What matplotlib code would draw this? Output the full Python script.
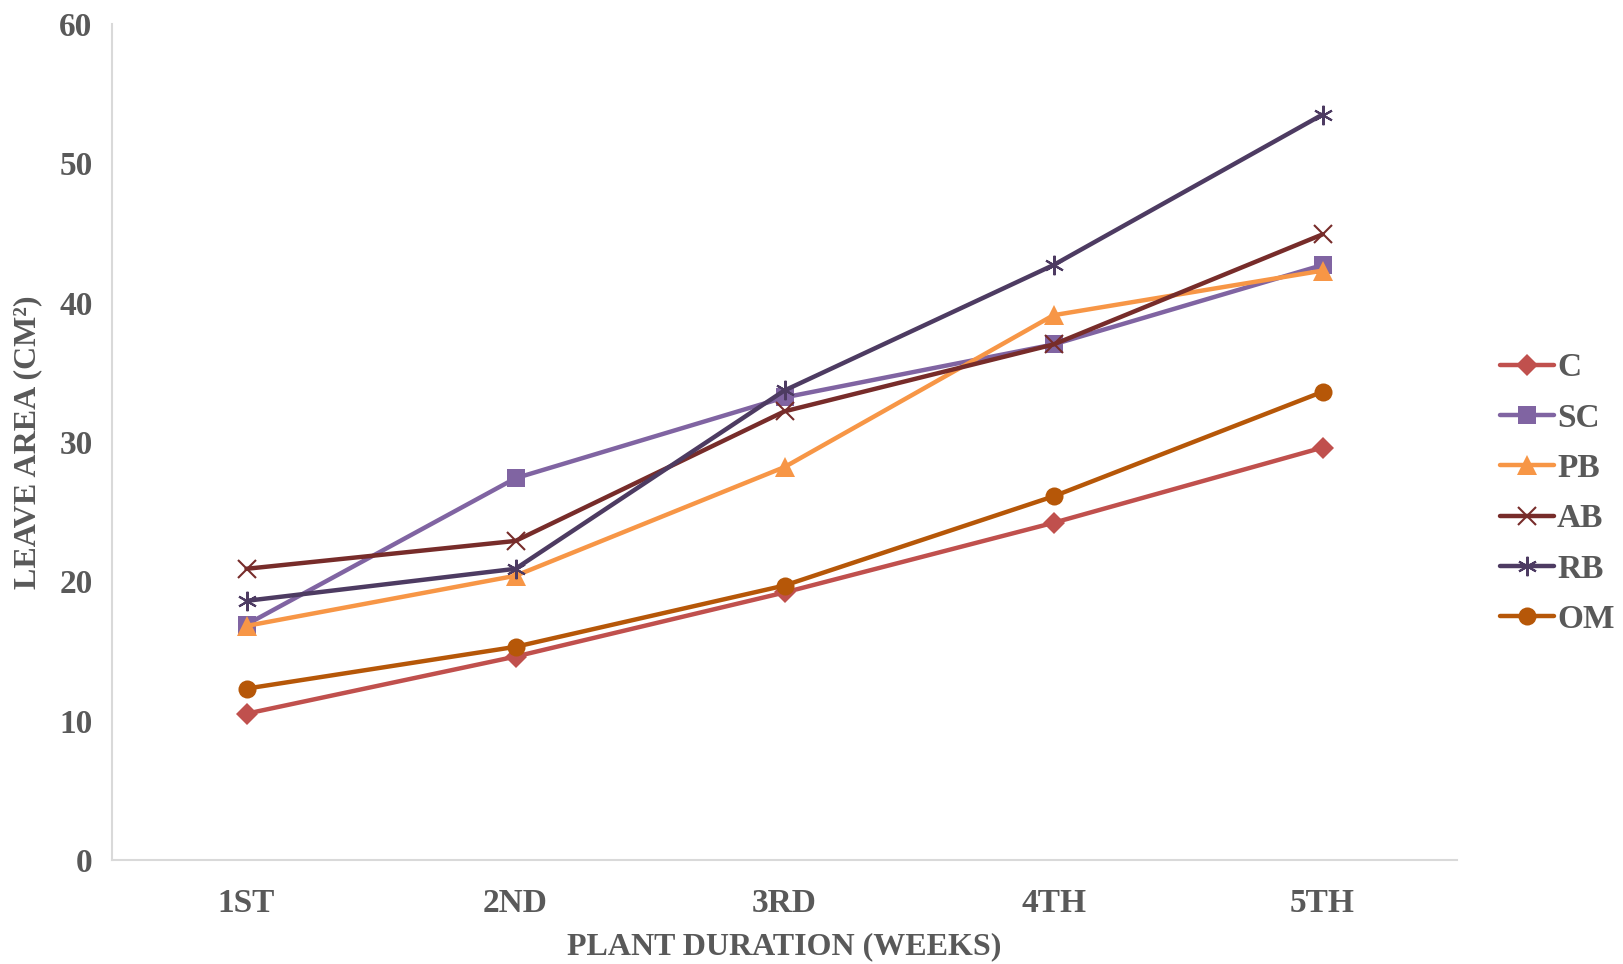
import matplotlib
matplotlib.use("Agg")
import matplotlib.pyplot as plt

weeks = ["1ST", "2ND", "3RD", "4TH", "5TH"]
c_vals = [10.5, 14.6, 19.2, 24.2, 29.6]
sc_vals = [16.9, 27.4, 33.2, 37.0, 42.7]
pb_vals = [16.8, 20.4, 28.2, 39.1, 42.3]
ab_vals = [20.9, 22.9, 32.2, 37.0, 44.9]
rb_vals = [18.6, 20.9, 33.7, 42.7, 53.5]
om_vals = [12.3, 15.3, 19.7, 26.1, 33.6]
y_ticks = [0, 10, 20, 30, 40, 50, 60]

series = [
    ("C", c_vals, "#C0504D", "D", 11),
    ("SC", sc_vals, "#8064A2", "s", 13),
    ("PB", pb_vals, "#F79646", "^", 14),
    ("AB", ab_vals, "#772C2A", "x", 13),
    ("RB", rb_vals, "#4D3B62", (6, 2, 0), 14),
    ("OM", om_vals, "#B65708", "o", 13),
]

plt.rcParams["font.family"] = ["Liberation Serif", "DejaVu Serif"]
text_color = "#595959"

fig = plt.figure(figsize=(16.23, 9.64), dpi=100)
ax = fig.add_axes([112 / 1623, 1 - 860 / 964, (1457 - 112) / 1623, (860 - 24) / 964])

x = list(range(len(weeks)))
for name, vals, color, marker, ms in series:
    thin = marker in ("x",) or isinstance(marker, tuple)
    ax.plot(x, vals, color=color, lw=3.2, marker=marker, markersize=ms,
            markeredgewidth=1.5 if thin else 0, markeredgecolor=color,
            markerfacecolor=color, label=name, solid_capstyle="round")

ax.set_xlim(-0.5, 4.5)
ax.set_ylim(0, 60)
ax.set_xticks(x)
ax.set_xticklabels(weeks)
ax.set_yticks(y_ticks)
ax.tick_params(length=0, labelsize=24, colors=text_color, pad=14)
ax.tick_params(axis="x", pad=20)
for lbl in ax.get_xticklabels() + ax.get_yticklabels():
    lbl.set_fontweight("bold")

for side in ("top", "right"):
    ax.spines[side].set_visible(False)
for side in ("left", "bottom"):
    ax.spines[side].set_color("#D9D9D9")
    ax.spines[side].set_linewidth(1.5)

ax.set_xlabel("PLANT DURATION (WEEKS)", fontsize=23, fontweight="bold",
              color=text_color, labelpad=10)
ax.set_ylabel("LEAVE AREA (CM²)", fontsize=23, fontweight="bold",
              color=text_color, labelpad=12)

leg = ax.legend(loc="center left", bbox_to_anchor=(1.0, 0.438), frameon=False,
                fontsize=24, handlelength=1.6, handletextpad=0.1,
                labelspacing=0.58, borderaxespad=0.9)
for t in leg.get_texts():
    t.set_fontweight("bold")
    t.set_color(text_color)

fig.savefig("out.png", dpi=100, facecolor="white")
